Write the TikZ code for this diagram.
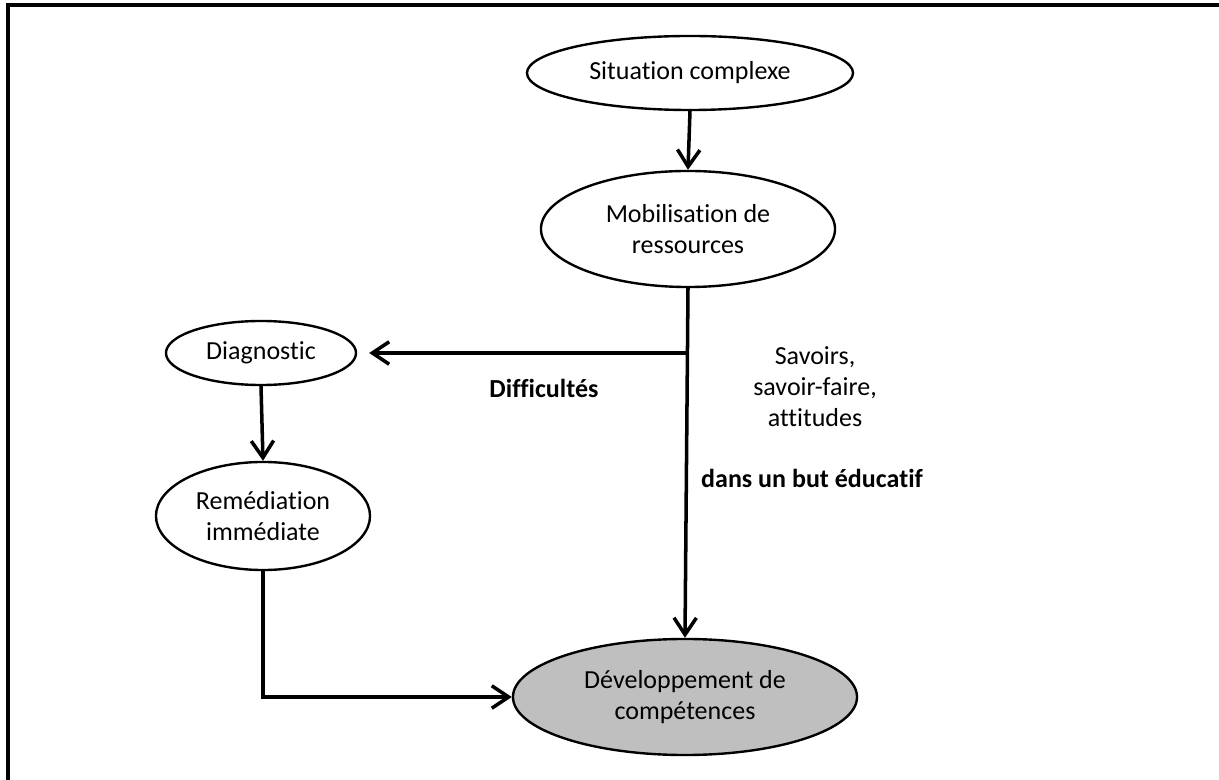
\documentclass[tikz,border=0pt]{standalone}
\usepackage{fontspec}
\setmainfont{Carlito}[Ligatures=NoCommon]
\usetikzlibrary{arrows.meta, shapes.geometric, positioning}

\begin{document}
\begin{tikzpicture}[x=0.025cm, y=-0.025cm,
    every node/.style={font=\fontsize{18.5}{22}\selectfont},
    etape/.style={draw, ellipse, line width=1.7pt, inner sep=0pt, align=center},
    fleche/.style={line width=2.5pt, -{Straight Barb[length=4.2mm, width=5.6mm, line width=2.5pt]}}]
    \useasboundingbox (0,0) rectangle (1219,780);
    % cadre
    \draw[line width=2.2pt] (8,780) -- (8,5) -- (1219,5);

    \node[etape, minimum width=8.15cm, minimum height=1.85cm] (situation) at (690,73) {Situation complexe};
    \node[etape, minimum width=7.35cm, minimum height=2.9cm] (mobilisation) at (688,229) {Mobilisation de\\ressources};
    \node[etape, minimum width=4.75cm, minimum height=1.6cm] (diagnostic) at (261,353) {Diagnostic};
    \node[etape, minimum width=5.35cm, minimum height=2.7cm] (remediation) at (263,516) {Remédiation\\immédiate};
    \node[etape, fill=black!25, minimum width=8.6cm, minimum height=2.9cm] (developpement) at (685,697) {Développement de\\compétences};

    \node[align=center] (savoirs) at (815,387) {Savoirs,\\savoir-faire,\\attitudes};
    \node[font=\fontsize{18.5}{22}\selectfont\bfseries] (but) at (812,478) {dans un but éducatif};
    \node[font=\fontsize{18.5}{22}\selectfont\bfseries] (difficultes) at (544,388) {Difficultés};

    \coordinate (branche) at (mobilisation.south |- diagnostic.east);
    \draw[fleche] (situation.south) -- (mobilisation.north);
    \draw[fleche] (mobilisation.south) -- (developpement.north);
    \draw[fleche, shorten >=0.3cm] (branche) -- (diagnostic.east);
    \draw[fleche] (diagnostic.south) -- (remediation.north);
    \draw[fleche] (remediation.south) |- (developpement.west);
\end{tikzpicture}
\end{document}
